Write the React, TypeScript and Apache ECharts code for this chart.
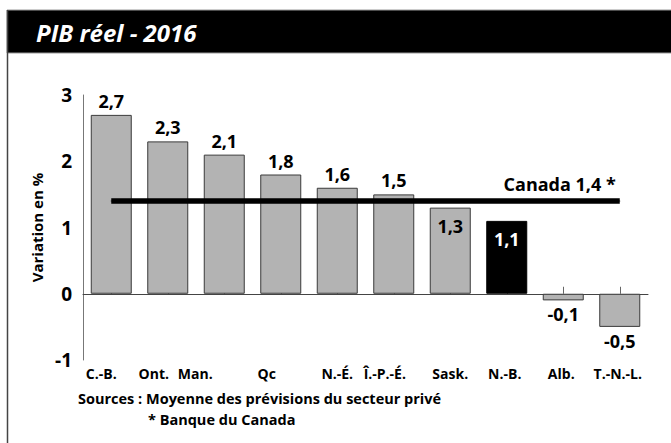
import React, { useEffect, useRef } from "react";
import * as echarts from "echarts";

const categories = ["C.-B.", "Ont.", "Man.", "Qc", "N.-É.", "Î.-P.-É.", "Sask.", "N.-B.", "Alb.", "T.-N.-L."];
const values = [2.7, 2.3, 2.1, 1.8, 1.6, 1.5, 1.3, 1.1, -0.1, -0.5];
const canadaValue = 1.4;
const canadaLabel = "Canada 1,4 *";
const highlighted = ["N.-B."];
const labelsInside = ["Sask.", "N.-B."];
const yMin = -1;
const yMax = 3;
const yInterval = 1;
const titleText = "PIB réel - 2016";
const yAxisTitle = "Variation en %";
const sourceLines = ["Sources : Moyenne des prévisions du secteur privé", "* Banque du Canada"];

// horizontal nudges of category labels (px, negative = left)
const labelShift = [-10, -14, -29, -14, 0, -9, 0, -2, -2, -2];

const FONT = "'Open Sans', 'Noto Sans', sans-serif";
const fmt = (v: number) => v.toFixed(1).replace(".", ",");

export default function App() {
  const ref = useRef<HTMLDivElement>(null);
  useEffect(() => {
    if (!ref.current) return;
    const chart = echarts.init(ref.current, null, { renderer: "svg" });

    const rich: Record<string, any> = {};
    labelShift.forEach((s, i) => {
      rich["o" + i] = {
        fontFamily: FONT,
        fontWeight: "bold",
        fontSize: 14,
        color: "#000",
        padding: [0, Math.max(0, -2 * s), 0, Math.max(0, 2 * s)],
      };
    });

    const barData = values.map((v, i) => {
      const cat = categories[i];
      const hi = highlighted.includes(cat);
      const inside = labelsInside.includes(cat);
      return {
        value: v,
        itemStyle: { color: hi ? "#000" : "#b3b3b3", borderColor: hi ? "#000" : "#3a3a3a", borderWidth: 1 },
        label: {
          position: v < 0 ? "bottom" : inside ? "insideTop" : "top",
          distance: inside ? 9 : 5,
          color: hi ? "#fff" : "#000",
        },
      };
    });

    const lineData = categories.map((_, i) =>
      i === categories.length - 1
        ? {
            value: canadaValue,
            label: {
              show: true,
              formatter: canadaLabel,
              position: "top",
              align: "right",
              distance: 6,
              offset: [-4, -2],
              fontFamily: FONT,
              fontWeight: "bold",
              fontSize: 18,
              color: "#000",
            },
          }
        : canadaValue
    );

    chart.setOption({
      animation: false,
      backgroundColor: "#fff",
      grid: { left: 83, right: 23, top: 95, bottom: 83, containLabel: false },
      xAxis: {
        type: "category",
        data: categories,
        axisLine: { onZero: true, lineStyle: { color: "#444", width: 1 } },
        axisTick: { show: true, inside: true, alignWithLabel: true, length: 7, lineStyle: { color: "#666" } },
        axisLabel: {
          margin: 6,
          interval: 0,
          formatter: (val: string, idx: number) => `{o${idx}|${val}}`,
          rich,
        },
      },
      yAxis: {
        type: "value",
        min: yMin,
        max: yMax,
        interval: yInterval,
        name: yAxisTitle,
        nameLocation: "middle",
        nameRotate: 90,
        nameGap: 36,
        nameTextStyle: { fontFamily: FONT, fontWeight: "bold", fontSize: 15, color: "#000" },
        axisLine: { show: true, lineStyle: { color: "#777", width: 1 } },
        axisTick: { show: false },
        splitLine: { show: false },
        axisLabel: {
          margin: 11,
          fontFamily: FONT,
          fontWeight: "bold",
          fontSize: 19,
          color: "#000",
          formatter: (v: number) => String(v),
        },
      },
      series: [
        {
          type: "bar",
          data: barData,
          barWidth: 41,
          label: {
            show: true,
            fontFamily: FONT,
            fontWeight: "bold",
            fontSize: 18,
            formatter: (p: any) => fmt(p.value),
          },
          z: 2,
        },
        {
          type: "line",
          data: lineData,
          symbol: "circle",
          symbolSize: 1,
          showSymbol: true,
          itemStyle: { color: "#000" },
          lineStyle: { color: "#000", width: 5.5 },
          label: { show: false },
          z: 3,
        },
      ],
      graphic: [
        { type: "rect", shape: { x: 7, y: 10, width: 670, height: 43 }, style: { fill: "#000", stroke: "#999", lineWidth: 1 }, silent: true },
        { type: "line", shape: { x1: 7.5, y1: 10, x2: 7.5, y2: 443 }, style: { stroke: "#444", lineWidth: 1.5 }, silent: true },
        {
          type: "text",
          x: 36,
          y: 32,
          style: {
            text: titleText,
            fill: "#fff",
            fontFamily: FONT,
            fontStyle: "italic",
            fontWeight: "bold",
            fontSize: 24,
            verticalAlign: "middle",
          },
        },
        {
          type: "text",
          x: 78,
          y: 398,
          style: { text: sourceLines[0], fill: "#000", fontFamily: FONT, fontWeight: "bold", fontSize: 14.5, verticalAlign: "middle" },
        },
        {
          type: "text",
          x: 148,
          y: 419,
          style: { text: sourceLines[1], fill: "#000", fontFamily: FONT, fontWeight: "bold", fontSize: 14.5, verticalAlign: "middle" },
        },
      ],
    });
    return () => chart.dispose();
  }, []);
  return <div ref={ref} style={{ position: "fixed", left: 0, top: 0, width: 671, height: 443 }} />;
}
